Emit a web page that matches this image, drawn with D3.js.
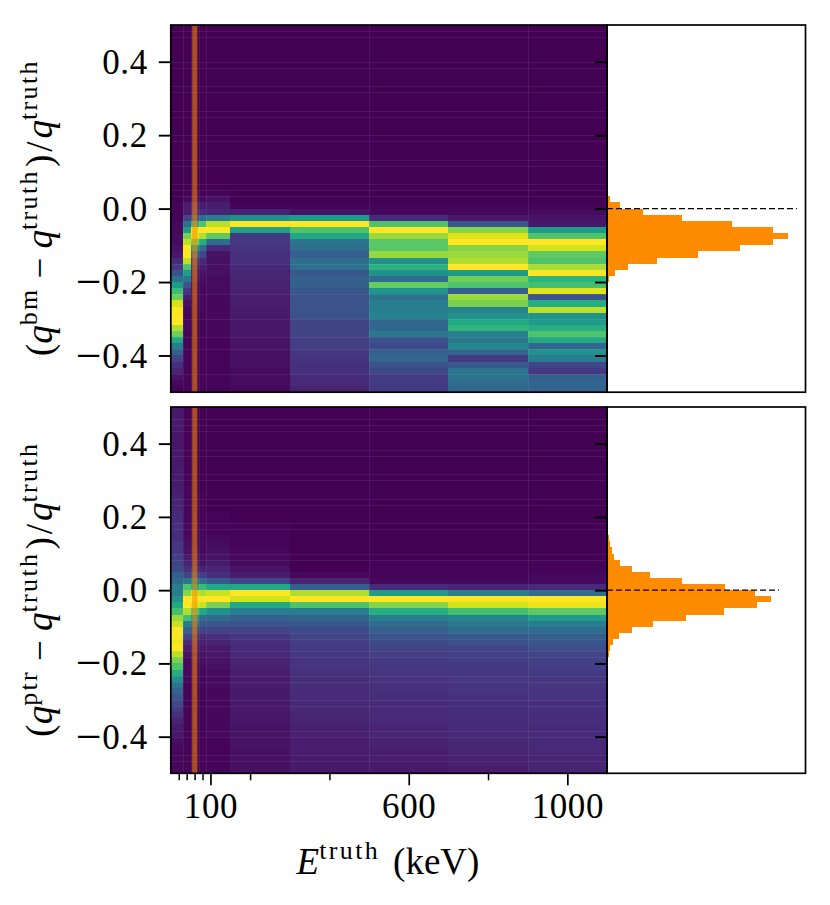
<!DOCTYPE html>
<html><head><meta charset="utf-8">
<script src="https://cdn.jsdelivr.net/npm/d3@7"></script>
<style>html,body{margin:0;padding:0;background:#fff}svg{display:block}text{font-family:"Liberation Serif",serif;fill:#000}</style>
</head><body><svg id="c" width="830" height="905"></svg>
<script>
// Energy bin edges (keV) and residual bin edges
const energyEdges = [0,30,50,70,90,150,300,500,700,900,1100];
const residualBinCount = 60;
const sourceBand = [54,67];
const yTickValues = [0.4,0.2,0,-0.2,-0.4];
const xMajorTicks = [100,600,1000];
const xMinorTicks = [20,40,60,80,200,400,800];
const seamEnergies = [30,50,70,90,500,900];
const bmSeamRows = [1,2,6,7,10,11,14,15,18,19,22,23,26,27,28,39,44,48,51,53,57];
const ptrSeamRows = [2,3,4,7,8,11,12,15,16,19,20,24,25,37,38,40,41,44,45,48,49,53,54,57,58];

// Top panel: column-normalised intensity per residual row (row 0 = +0.5)
const bm0 = [0,0,0,0,0,0,0,0,0,0, 0,0,0,0,0,0,0,0,0,0, 0,0,0,0,0,0,0,0,0,.01, .01,.01,.02,.02,.03,.03,.04,.06,.12,.17, .25,.38,.55,.68,.78,.93,1,1,1,.88, .78,.6,.42,.3,.2,.14,.1,.05,.02,.01];
const bm1 = [0,0,0,0,0,0,0,0,0,0, 0,0,0,0,0,0,0,0,0,0, 0,0,0,0,0,0,0,.01,.03,.08, .08,.2,.36,.55,.8,.9,1,1,.9,.72, .55,.4,.25,.15,.08,.04,.02,.02,.02,.02, .01,.01,.01,.01,.01,.01,.01,.01,.01,.01];
const bm2 = [0,0,0,0,0,0,0,0,0,0, 0,0,0,0,0,0,0,0,0,0, 0,0,0,0,0,0,0,.01,.03,.1, .12,.25,.62,.97,.95,.78,.5,.3,.15,.1, .07,.05,.03,.02,.02,.02,.01,.01,.01,.01, .01,.01,.01,.01,.01,.01,.01,.01,.01,.01];
const bm3 = [0,0,0,0,0,0,0,0,0,0, 0,0,0,0,0,0,0,0,0,0, 0,0,0,0,0,0,0,.01,.03,.08, .12,.35,.72,1,.88,.62,.35,.22,.12,.08, .05,.04,.03,.02,.02,.02,.02,.01,.01,.01, .01,.01,.01,.01,.01,.01,.01,.01,.01,.01];
const bm4 = [0,0,0,0,0,0,0,0,0,0, 0,0,0,0,0,0,0,0,0,0, 0,0,0,0,0,0,0,.01,.05,.08, .1,.42,.9,1,.75,.35,.12,.05,.04,.04, .04,.03,.03,.03,.02,.02,.02,.02,.02,.02, .02,.01,.01,.01,.01,.01,.01,.01,.01,.01];
const bm5 = [0,0,0,0,0,0,0,0,0,0, 0,0,0,0,0,0,0,0,0,0, 0,0,0,0,0,0,0,0,0,.01, .09,.5,1,.57,.17,.16,.15,.14,.13,.11, .1,.1,.09,.09,.08,.08,.07,.07,.06,.06, .06,.05,.05,.04,.04,.04,.03,.03,.03,.02];
const bm6 = [0,0,0,0,0,0,0,0,0,0, 0,0,0,0,0,0,0,0,0,0, 0,0,0,0,0,0,0,0,0,.01, .05,.55,1,.72,.6,.38,.36,.3,.36,.36, .27,.3,.3,.27,.25,.25,.25,.25,.2,.2, .2,.18,.18,.16,.15,.14,.14,.12,.12,.1];
const bm7 = [0,0,0,0,0,0,0,0,0,0, 0,0,0,0,0,0,0,0,0,0, 0,0,0,0,0,0,0,0,0,.01, .02,.12,.72,1,.85,.74,.74,.84,.5,.64, .5,.35,.76,.52,.38,.42,.42,.45,.33,.33, .4,.25,.22,.3,.33,.25,.22,.17,.17,.17];
const bm8 = [0,0,0,0,0,0,0,0,0,0, 0,0,0,0,0,0,0,0,0,0, 0,0,0,0,0,0,0,0,0,.01, .02,.06,.27,.82,.95,1,.82,.85,.88,1, .55,.78,.72,.3,.85,.8,.45,.5,.6,.65, .42,.4,.47,.33,.17,.28,.38,.38,.35,.33];
const bm9 = [0,0,0,0,0,0,0,0,0,0, 0,0,0,0,0,0,0,0,0,0, 0,0,0,0,0,0,0,0,0,.01, .03,.05,.06,.55,.72,1,.93,.75,.72,.87, 1,.65,.7,.95,.25,.62,.9,.5,.55,.62, .72,.6,.33,.5,.42,.2,.17,.3,.33,.32];
const bmColumns = [bm0,bm1,bm2,bm3,bm4,bm5,bm6,bm7,bm8,bm9];

// Bottom panel
const ptr0 = [.07,.07,.07,.07,.06,.06,.06,.07,.07,.07, .08,.08,.08,.08,.09,.1,.1,.12,.12,.14, .13,.14,.16,.16,.18,.2,.22,.3,.34,.42, .42,.5,.6,.7,.85,.92,1,1,.98,1, .9,.8,.72,.62,.5,.38,.32,.27,.22,.17, .14,.1,.07,.06,.04,.03,.02,.02,.02,.02];
const ptr1 = [.01,.01,.01,.01,.01,.01,.01,.01,.01,.01, .01,.01,.01,.02,.02,.02,.02,.02,.02,.02, .02,.03,.04,.05,.08,.1,.14,.2,.4,.72, .82,1,1,.88,.7,.42,.32,.2,.12,.08, .05,.03,.02,.02,.02,.01,.01,.01,.01,.01, .01,.01,.01,.01,.01,.01,.01,.01,.01,.01];
const ptr2 = [0,0,0,0,0,0,0,0,0,0, 0,0,0,0,.01,.01,.01,.01,.01,.02, .02,.02,.03,.04,.06,.08,.12,.22,.4,.6, .92,1,.95,.72,.5,.35,.22,.14,.1,.07, .05,.04,.03,.02,.02,.01,.01,.01,.01,.01, .01,.01,.01,.01,.01,.01,.01,.01,.01,.01];
const ptr3 = [0,0,0,0,0,0,0,0,0,0, 0,0,0,0,.01,.01,.01,.01,.01,.01, .02,.02,.03,.03,.04,.05,.1,.18,.35,.68, .88,1,.92,.6,.35,.28,.2,.12,.09,.07, .05,.04,.03,.02,.02,.02,.01,.01,.01,.01, .01,.01,.01,.01,.01,.01,.01,.01,.01,.01];
const ptr4 = [0,0,0,0,0,0,0,0,0,0, 0,0,0,0,0,0,0,.01,.01,.01, .01,.02,.03,.04,.05,.07,.1,.14,.28,.6, .92,1,.8,.5,.34,.26,.2,.13,.1,.07, .06,.05,.04,.03,.03,.03,.02,.02,.02,.02, .02,.02,.02,.02,.01,.01,.01,.01,.01,.01];
const ptr5 = [0,0,0,0,0,0,0,0,0,0, 0,0,0,0,0,0,0,0,0,.01, .01,.01,.01,.02,.02,.03,.05,.08,.2,.6, 1,.93,.6,.42,.3,.26,.2,.16,.14,.12, .11,.1,.09,.08,.08,.08,.07,.07,.07,.06, .06,.06,.05,.05,.05,.05,.04,.04,.04,.04];
const ptr6 = [0,0,0,0,0,0,0,0,0,0, 0,0,0,0,0,0,0,0,0,0, 0,0,0,0,0,0,0,.02,.1,.3, .88,1,.72,.42,.32,.27,.22,.2,.18,.17, .16,.15,.15,.14,.13,.13,.12,.12,.11,.11, .1,.1,.09,.09,.08,.08,.08,.07,.07,.07];
const ptr7 = [0,0,0,0,0,0,0,0,0,0, 0,0,0,0,0,0,0,0,0,0, 0,0,0,0,0,.01,.01,.01,.02,.12, .55,1,.82,.62,.42,.35,.3,.26,.22,.2, .18,.17,.16,.15,.15,.14,.14,.13,.12,.12, .11,.11,.1,.1,.09,.09,.08,.08,.07,.07];
const ptr8 = [0,0,0,0,0,0,0,0,0,0, 0,0,0,0,0,0,0,0,0,0, 0,0,0,0,0,.01,.01,.01,.02,.1, .42,1,.93,.7,.45,.4,.35,.28,.25,.21, .19,.18,.17,.16,.16,.15,.15,.14,.14,.13, .13,.12,.12,.11,.11,.1,.1,.09,.09,.08];
const ptr9 = [0,0,0,0,0,0,0,0,0,0, 0,0,0,0,0,0,0,0,0,0, 0,0,0,0,0,.01,.01,.02,.03,.12, .35,1,.97,.75,.55,.42,.35,.3,.27,.24, .2,.19,.18,.17,.16,.16,.15,.15,.14,.14, .13,.13,.12,.12,.12,.11,.11,.1,.1,.1];
const ptrColumns = [ptr0,ptr1,ptr2,ptr3,ptr4,ptr5,ptr6,ptr7,ptr8,ptr9];

// Marginal histograms: first row, and share per row in percent
const bmHistStart = 28;
const bmHist = [.3,1.2,3.4,7,11.7,15.5,16.9,15.5,12.4,8.5,4.7,2,.75,.2];
const ptrHistStart = 14;
const ptrHist = [.05,.05,.05,.05,.1,.1,.1,.2,.3,.5,.7,1.2,2.3,4,7,11,13.8,15.3,14,10.9,7.4,4.3,2.3,1.1,.56,.3,.2,.1];

const svg = d3.select("#c");
const L=170.8, M=607, R=805.5;
const panels = [
  {cols:bmColumns, hist:bmHist, start:bmHistStart, seams:bmSeamRows, top:25, bottom:392.2, sup:"bm"},
  {cols:ptrColumns, hist:ptrHist, start:ptrHistStart, seams:ptrSeamRows, top:407, bottom:773.3, sup:"ptr"}
];
const x = d3.scaleLinear().domain([0,1100]).range([L,M]);
const hx = d3.scaleLinear().domain([0,18.55]).range([M,R]);
const color = d3.scaleSequential(d3.interpolateViridis).domain([0,1]);
const FS=35, LS=37, SUP=LS*.7, RAISE=15;

function supTspan(t,s){ return t.append("tspan").attr("font-size",SUP).attr("letter-spacing",2.4).attr("dy",-RAISE).text(s); }

panels.forEach(p=>{
  const y = d3.scaleLinear().domain([0.5,-0.5]).range([p.top,p.bottom]);
  const rowEdge = r => y(0.5 - r/residualBinCount);
  const g = svg.append("g");
  p.cols.forEach((col,ci)=>{
    g.append("g").attr("shape-rendering","crispEdges").selectAll("rect").data(col).join("rect")
      .attr("x",x(energyEdges[ci])).attr("width",x(energyEdges[ci+1])-x(energyEdges[ci]))
      .attr("y",(d,r)=>rowEdge(r)).attr("height",(d,r)=>rowEdge(r+1)-rowEdge(r))
      .attr("fill",d=>color(d));
  });
  g.append("g").selectAll("line").data(p.seams).join("line")
    .attr("x1",L).attr("x2",M).attr("y1",d=>Math.round(rowEdge(d))+.5).attr("y2",d=>Math.round(rowEdge(d))+.5)
    .attr("stroke","#fff").attr("stroke-opacity",.07);
  g.append("g").selectAll("line").data(seamEnergies).join("line")
    .attr("y1",p.top).attr("y2",p.bottom).attr("x1",d=>Math.round(x(d))+.5).attr("x2",d=>Math.round(x(d))+.5)
    .attr("stroke","#fff").attr("stroke-opacity",.07);
  g.append("rect").attr("x",x(sourceBand[0])).attr("width",x(sourceBand[1])-x(sourceBand[0]))
    .attr("y",p.top).attr("height",p.bottom-p.top).attr("fill","darkorange").attr("fill-opacity",.55);
  g.append("g").attr("shape-rendering","crispEdges").selectAll("rect").data(p.hist).join("rect")
    .attr("x",M).attr("width",d=>hx(d)-M)
    .attr("y",(d,i)=>rowEdge(p.start+i)).attr("height",(d,i)=>rowEdge(p.start+i+1)-rowEdge(p.start+i))
    .attr("fill","darkorange");
  g.append("line").attr("x1",M).attr("x2",hx(d3.max(p.hist)*1.05)).attr("y1",y(0)).attr("y2",y(0))
    .attr("stroke","#000").attr("stroke-width",1.3).attr("stroke-dasharray","6,3");
  [[L,M],[M,R]].forEach(([a,b])=>g.append("rect").attr("x",a).attr("y",p.top).attr("width",b-a).attr("height",p.bottom-p.top)
    .attr("fill","none").attr("stroke","#000").attr("stroke-width",1.7));
  const ax = g.append("g").attr("transform",`translate(${L},0)`)
    .call(d3.axisLeft(y).tickValues(yTickValues).tickSize(12).tickPadding(11).tickFormat(d3.format(".1f")));
  ax.select(".domain").remove();
  ax.selectAll("line").attr("stroke-width",1.9);
  ax.selectAll("text").attr("font-size",FS).style("font-family",'"Liberation Serif"').attr("letter-spacing",.6).attr("dy",null).each(function(d){
    const s=d3.format(".1f")(Math.abs(d));
    const t=d3.select(this).text(null).attr("y",FS*.33);
    if(d<0){t.append("tspan").attr("font-size",FS*1.3).attr("dy",3).text("\u2212");t.append("tspan").attr("dy",-3).text(s);}
    else t.text(s);
  });
  const ax2 = g.append("g").attr("transform",`translate(${M},0)`)
    .call(d3.axisLeft(y).tickValues(yTickValues).tickSize(12).tickFormat(""));
  ax2.select(".domain").remove();
  ax2.selectAll("line").attr("stroke-width",1.9);
  const lab = g.append("text").attr("transform",`translate(52,${(p.top+p.bottom)/2-1}) rotate(-90)`)
    .attr("text-anchor","middle").attr("font-size",LS);
  lab.append("tspan").text("(");
  lab.append("tspan").attr("font-style","italic").text("q");
  supTspan(lab,p.sup);
  lab.append("tspan").attr("dy",RAISE).attr("dx",9).text("\u2212");
  lab.append("tspan").attr("dx",9).attr("font-style","italic").text("q");
  supTspan(lab,"truth");
  lab.append("tspan").attr("dy",RAISE).attr("dx",2).text(")");
  lab.append("tspan").attr("dx",3).text("/");
  lab.append("tspan").attr("dx",3).attr("font-style","italic").text("q");
  supTspan(lab,"truth");
});

const by = panels[1].bottom;
const minor = svg.append("g").attr("transform",`translate(0,${by})`)
  .call(d3.axisBottom(x).tickValues(xMinorTicks).tickSize(7).tickFormat(""));
minor.select(".domain").remove(); minor.selectAll("line").attr("stroke-width",1.5);
const major = svg.append("g").attr("transform",`translate(0,${by})`)
  .call(d3.axisBottom(x).tickValues(xMajorTicks).tickSize(12).tickPadding(8).tickFormat(d3.format("d")));
major.select(".domain").remove(); major.selectAll("line").attr("stroke-width",1.7);
major.selectAll("text").attr("font-size",FS).attr("letter-spacing",.6).style("font-family",'"Liberation Serif"');

const xl = svg.append("text").attr("x",388).attr("y",874).attr("text-anchor","middle").attr("font-size",LS);
xl.append("tspan").attr("font-style","italic").text("E");
supTspan(xl,"truth");
xl.append("tspan").attr("dy",RAISE).attr("dx",13).text("(keV)");
</script></body></html>
